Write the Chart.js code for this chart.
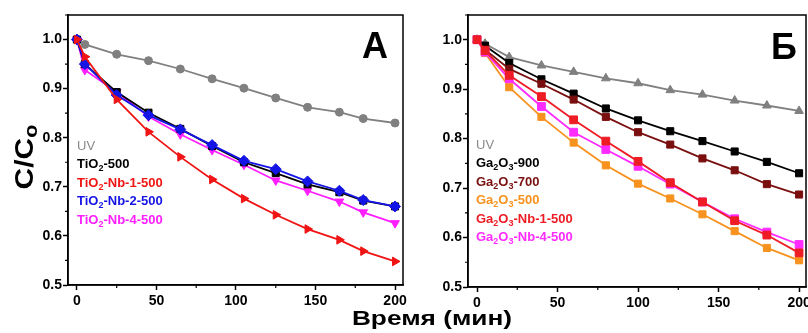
<!DOCTYPE html>
<html><head><meta charset="utf-8">
<script src="https://cdn.jsdelivr.net/npm/chart.js@4/dist/chart.umd.min.js"></script>
<style>
html,body{margin:0;padding:0;background:#fff;}
body{width:808px;height:333px;overflow:hidden;position:relative;font-family:"Liberation Sans",Arial,sans-serif;}
.wrap{position:absolute;top:0;height:333px;}
.leg{position:absolute;font-weight:bold;font-size:13px;line-height:18.6px;white-space:nowrap;}
.leg div{height:18.6px;}
.leg sub{font-size:9px;line-height:0;vertical-align:-3px;}
.panel{position:absolute;font-weight:bold;font-size:36px;line-height:36px;}
#ylab{position:absolute;left:24px;top:157px;transform:translate(-50%,-50%) rotate(-90deg) scaleX(1.2);font-weight:bold;font-size:25px;white-space:nowrap;}
#ylab sub{font-size:18px;vertical-align:-4px;line-height:0;}
#xlab{position:absolute;left:432px;top:318px;transform:translate(-50%,-50%) scaleX(1.25);font-weight:bold;font-size:21px;white-space:nowrap;}
</style></head>
<body>
<div class="wrap" style="left:0;width:410px;"><canvas id="ca"></canvas></div>
<div class="wrap" style="left:400px;width:440px;"><canvas id="cb"></canvas></div>
<div id="legA" class="leg" style="left:77px;top:136.5px;"></div>
<div id="legB" class="leg" style="left:476px;top:135.5px;"></div>
<div class="panel" style="left:362px;top:28px;">A</div>
<div class="panel" style="left:771px;top:29px;">Б</div>
<div id="ylab">C/C<sub>o</sub></div>
<div id="xlab">Время (мин)</div>
<script>
// ---- Panel A (TiO2) ----
const timeA = [0, 5, 25, 45, 65, 85, 105, 125, 145, 165, 180, 200];
const uvA      = [1.000, 0.990, 0.970, 0.957, 0.940, 0.920, 0.901, 0.881, 0.862, 0.852, 0.839, 0.830];
const tio2_500 = [1.000, 0.950, 0.893, 0.851, 0.818, 0.783, 0.750, 0.728, 0.705, 0.689, 0.672, 0.660];
const tio2_nb1 = [1.000, 0.965, 0.878, 0.812, 0.761, 0.715, 0.676, 0.643, 0.614, 0.592, 0.569, 0.548];
const tio2_nb2 = [1.000, 0.950, 0.887, 0.846, 0.817, 0.785, 0.753, 0.736, 0.711, 0.692, 0.673, 0.660];
const tio2_nb4 = [1.000, 0.938, 0.893, 0.843, 0.807, 0.775, 0.745, 0.713, 0.692, 0.670, 0.648, 0.626];
const labelsA = ["UV", "TiO<sub>2</sub>-500", "TiO<sub>2</sub>-Nb-1-500", "TiO<sub>2</sub>-Nb-2-500", "TiO<sub>2</sub>-Nb-4-500"];

// ---- Panel Б (Ga2O3) ----
const timeB = [0, 5, 20, 40, 60, 80, 100, 120, 140, 160, 180, 200];
const uvB   = [1.000, 0.992, 0.965, 0.948, 0.935, 0.922, 0.912, 0.898, 0.889, 0.877, 0.867, 0.856];
const ga900 = [1.000, 0.988, 0.953, 0.920, 0.891, 0.861, 0.837, 0.815, 0.795, 0.774, 0.753, 0.730];
const ga700 = [1.000, 0.980, 0.941, 0.911, 0.879, 0.844, 0.813, 0.788, 0.760, 0.736, 0.708, 0.687];
const ga500 = [1.000, 0.973, 0.904, 0.844, 0.792, 0.746, 0.709, 0.679, 0.647, 0.613, 0.579, 0.554];
const gaNb1 = [1.000, 0.978, 0.928, 0.885, 0.838, 0.795, 0.754, 0.711, 0.672, 0.634, 0.605, 0.569];
const gaNb4 = [1.000, 0.975, 0.921, 0.865, 0.813, 0.778, 0.744, 0.708, 0.672, 0.638, 0.611, 0.586];
const labelsB = ["UV", "Ga<sub>2</sub>O<sub>3</sub>-900", "Ga<sub>2</sub>O<sub>3</sub>-700", "Ga<sub>2</sub>O<sub>3</sub>-500", "Ga<sub>2</sub>O<sub>3</sub>-Nb-1-500", "Ga<sub>2</sub>O<sub>3</sub>-Nb-4-500"];

const xTicks = [0, 50, 100, 150, 200];
const yTicks = [0.5, 0.6, 0.7, 0.8, 0.9, 1.0];

Chart.defaults.font.family = '"Liberation Sans", Arial, sans-serif';
Chart.defaults.font.weight = 'bold';
Chart.defaults.font.size = 14;
Chart.defaults.color = '#000';

const isMajX = v => xTicks.some(t => Math.abs(t - v) < 1e-6);
const isMajY = v => yTicks.some(t => Math.abs(t - v) < 1e-6);
const onStep = (v, s) => Math.abs(v / s - Math.round(v / s)) < 1e-6;

const framePlugin = {
  id: 'frame',
  afterDraw(chart) {
    const {ctx, chartArea: a, scales: {x, y}} = chart;
    ctx.save();
    ctx.strokeStyle = '#000';
    ctx.lineWidth = 1.5;
    ctx.strokeRect(a.left, a.top, a.right - a.left, a.bottom - a.top);
    ctx.lineWidth = 1.2;
    ctx.beginPath();
    x.ticks.forEach(t => { if (!isMajX(t.value)) { const p = x.getPixelForValue(t.value); ctx.moveTo(p, a.bottom); ctx.lineTo(p, a.bottom + 3); } });
    y.ticks.forEach(t => { if (!isMajY(t.value)) { const p = y.getPixelForValue(t.value); ctx.moveTo(a.left, p); ctx.lineTo(a.left - 3, p); } });
    ctx.stroke();
    ctx.restore();
  }
};

function ds(label, xs, ys, color, style, rot, r, extra) {
  return Object.assign({
    label, data: xs.map((v, i) => ({x: v, y: ys[i]})),
    borderColor: color, backgroundColor: color, pointBackgroundColor: color, pointBorderColor: color,
    borderWidth: 1.8, pointStyle: style, pointRotation: rot, pointRadius: r, pointBorderWidth: 1,
    tension: 0
  }, extra || {});
}

function makeOpts(xmin, xmax, padRight, xH) {
  return {
    responsive: true, maintainAspectRatio: false, animation: false,
    layout: {padding: {top: 15, right: padRight, left: 0, bottom: 0}},
    plugins: {legend: {display: false}, tooltip: {enabled: false}},
    scales: {
      x: {
        type: 'linear', min: xmin, max: xmax,
        afterBuildTicks: s => { s.ticks = s.ticks.filter(t => onStep(t.value, 25)); },
        afterFit: s => { s.height = xH; },
        ticks: {autoSkip: false, stepSize: 25, padding: 3, maxRotation: 0, includeBounds: false,
          callback: v => isMajX(v) ? String(Math.round(v)) : ''},
        grid: {drawOnChartArea: false, tickLength: 5, tickWidth: 1.5,
          tickColor: c => (c.tick && isMajX(c.tick.value)) ? '#000' : 'rgba(0,0,0,0)'},
        border: {display: true, color: '#000', width: 1.5}
      },
      y: {
        min: 0.5, max: 1.05,
        afterBuildTicks: s => { s.ticks = s.ticks.filter(t => onStep(t.value, 0.05)); },
        afterFit: s => { s.width = 68; },
        ticks: {autoSkip: false, stepSize: 0.05, padding: 1, includeBounds: false,
          callback: v => isMajY(v) ? v.toFixed(1) : ''},
        grid: {drawOnChartArea: false, tickLength: 5, tickWidth: 1.5,
          tickColor: c => (c.tick && isMajY(c.tick.value)) ? '#000' : 'rgba(0,0,0,0)'},
        border: {display: true, color: '#000', width: 1.5}
      }
    }
  };
}

new Chart(document.getElementById('ca'), {
  type: 'line',
  data: {datasets: [
    ds('UV', timeA, uvA, '#808080', 'circle', 0, 4, {order: 5}),
    ds('TiO2-500', timeA, tio2_500, '#000000', 'rect', 0, 5, {order: 3}),
    ds('TiO2-Nb-1-500', timeA, tio2_nb1, '#f01414', 'triangle', 90, 5, {order: 1}),
    ds('TiO2-Nb-2-500', timeA, tio2_nb2, '#1414e6', 'rectRot', 0, 5.5, {order: 2}),
    ds('TiO2-Nb-4-500', timeA, tio2_nb4, '#ff1eff', 'triangle', 180, 5, {order: 4})
  ]},
  options: makeOpts(-5.6, 205, 7, 48),
  plugins: [framePlugin]
});

new Chart(document.getElementById('cb'), {
  type: 'line',
  data: {datasets: [
    ds('UV', timeB, uvB, '#808080', 'triangle', 0, 5, {order: 6}),
    ds('Ga2O3-900', timeB, ga900, '#000000', 'rect', 0, 5, {order: 5}),
    ds('Ga2O3-700', timeB, ga700, '#7a0f0f', 'rect', 0, 5, {order: 4}),
    ds('Ga2O3-500', timeB, ga500, '#f7921e', 'rect', 0, 5, {order: 3}),
    ds('Ga2O3-Nb-1-500', timeB, gaNb1, '#ee1c24', 'rect', 0, 5.5, {order: 1}),
    ds('Ga2O3-Nb-4-500', timeB, gaNb4, '#ff2bff', 'rect', 0, 5.5, {order: 2})
  ]},
  options: makeOpts(-5.6, 204.3, 34, 46),
  plugins: [framePlugin]
});

function legend(id, labels, colors) {
  const el = document.getElementById(id);
  labels.forEach((l, i) => {
    const d = document.createElement('div');
    d.innerHTML = l;
    d.style.color = colors[i];
    if (i === 0) d.style.fontWeight = 'normal';
    el.appendChild(d);
  });
}
legend('legA', labelsA, ['#8a8a8a', '#000000', '#f01414', '#1414e6', '#ff1eff']);
legend('legB', labelsB, ['#8a8a8a', '#000000', '#7a0f0f', '#f7921e', '#ee1c24', '#ff2bff']);
</script>
</body></html>
